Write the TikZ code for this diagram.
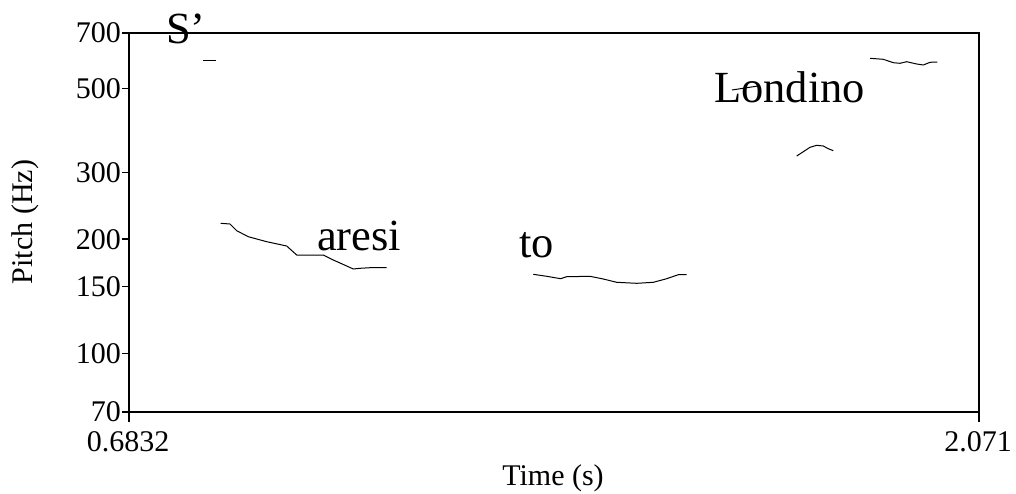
\documentclass[tikz,border=0pt]{standalone}
\usepackage{fontspec}
\setmainfont{Liberation Serif}
\begin{document}
\begin{tikzpicture}[x=1pt,y=-1pt,
  frame/.style={line width=1.6pt,line cap=rect},
  tick/.style={line width=1.6pt},
  contour/.style={line width=1pt,line join=round},
  ticklab/.style={font=\fontsize{30}{32}\selectfont,inner sep=0pt},
  axlab/.style={font=\fontsize{30}{32}\selectfont,inner sep=0pt},
  word/.style={font=\fontsize{44.5}{46}\selectfont,inner sep=0pt,anchor=base west}]
\useasboundingbox (0,0) rectangle (1016,493);
% frame
\coordinate (tl) at (129,33);
\coordinate (br) at (979,412);
\draw[frame] (tl) rectangle (br);
% x ticks
\draw[tick] (129,412) -- (129,422);
\draw[tick] (979,412) -- (979,422);
% y ticks
\foreach \f/\nm in {700/a,500/b,300/c,200/d,150/e,100/f,70/g}{
  \pgfmathsetmacro{\yy}{412-379*log10(\f/70)}
  \draw[tick] (122,\yy) -- (129,\yy);
  \node[ticklab,anchor=east] (y\nm) at (121,\yy) {\f};
}
\node[ticklab,anchor=base] (x0) at (128,451) {0.6832};
\node[ticklab,anchor=base] (x1) at (978,451) {2.071};
\node[axlab,anchor=base] (xl) at (553,485) {Time (s)};
\node[axlab,rotate=90,anchor=base] (yl) at (32,222) {Pitch (Hz)};
% words
\node[word] (w1) at (166,43) {S’};
\node[word] (w2) at (317,250) {aresi};
\node[word] (w3) at (519,257) {to};
\node[word] (w4) at (714,102) {Londino};
% contours
\draw[contour] (203,60) -- (216,60);
\draw[contour] (220.7,223.3) -- (230,224) -- (236.7,230.7) -- (248.3,236.7) -- (266.7,241.7) -- (286.7,246) -- (296.7,255) -- (310,255) -- (323.3,255) -- (333.3,260) -- (346.7,266) -- (353.3,269) -- (360,268.3) -- (370,267.7) -- (386.7,267.7);
\draw[contour] (533.3,274.3) -- (546.7,276.3) -- (560.7,278.7) -- (566.7,276.7) -- (590,276.3) -- (603.3,279) -- (616.7,282.3) -- (636.7,283.3) -- (653.3,282.3) -- (666.7,278.7) -- (678.3,274.7) -- (686.7,274.7);
\draw[contour] (732,90) -- (745,88) -- (758,86);
\draw[contour] (796.7,156) -- (803.3,151.7) -- (810,147.3) -- (816.7,145.3) -- (823.3,146) -- (828.3,148.7) -- (833.3,150.7);
\draw[contour] (870,58.3) -- (883.3,59.3) -- (893.3,62.7) -- (900,63.3) -- (906.7,61.7) -- (916.7,64) -- (923.3,65) -- (930,62.3) -- (937.3,62);
\end{tikzpicture}
\end{document}
